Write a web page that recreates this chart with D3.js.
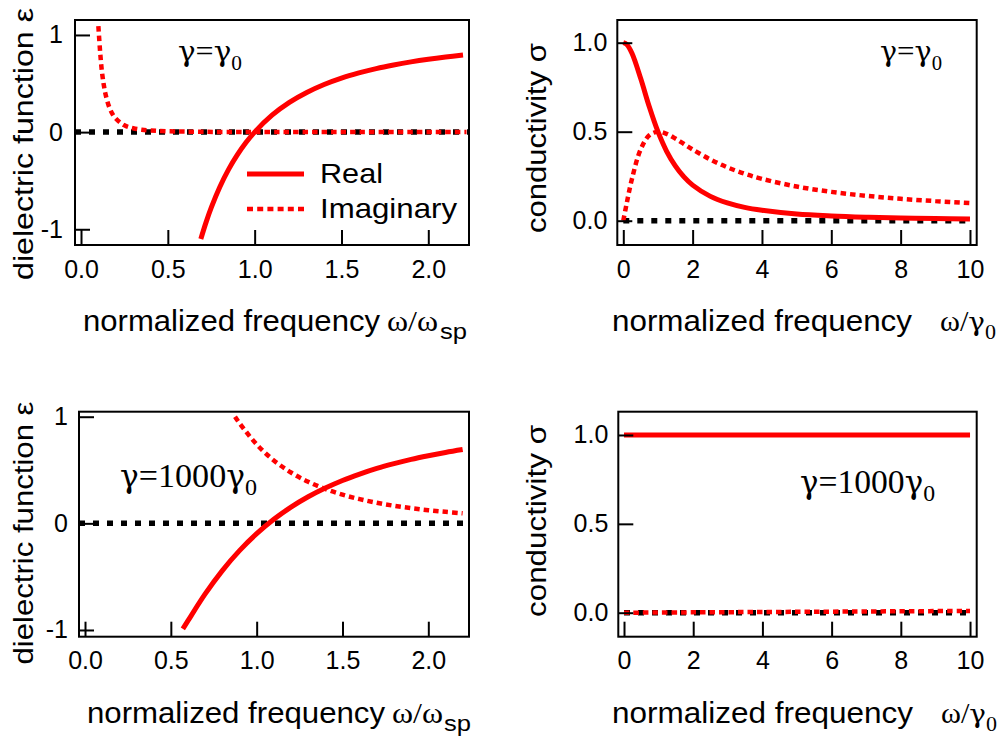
<!DOCTYPE html>
<html>
<head>
<meta charset="utf-8">
<script src="https://cdn.jsdelivr.net/npm/d3@7"></script>
<style>
  body { margin: 0; background: #fff; }
  svg { display: block; }
</style>
</head>
<body>
<svg id="fig" width="1005" height="738"></svg>
<script>
// ---------- tick labels ----------
const epsTickX = [0, 0.5, 1.0, 1.5, 2.0];
const epsTickY = [-1, 0, 1];
const sigTickX = [0, 2, 4, 6, 8, 10];
const sigTickY = [0, 0.5, 1.0];

// ---------- dielectric function, γ = γ0 ----------
const epsLowRealFreq = [0.69, 0.72, 0.75, 0.8, 0.85, 0.9, 0.95, 1.0, 1.1, 1.2, 1.3, 1.4, 1.5, 1.6, 1.7, 1.8, 1.9, 2.0, 2.1, 2.2];
const epsLowReal     = [-1.100, -0.929, -0.778, -0.563, -0.384, -0.235, -0.108, 0.0, 0.174, 0.306, 0.408, 0.490, 0.556, 0.609, 0.654, 0.691, 0.723, 0.750, 0.773, 0.793];
const epsLowImagFreq = [0.10, 0.11, 0.12, 0.13, 0.14, 0.16, 0.18, 0.20, 0.25, 0.30, 0.35, 0.40, 0.50, 0.70, 1.0, 1.5, 2.22];
const epsLowImag     = [1.09, 0.83, 0.63, 0.50, 0.40, 0.27, 0.19, 0.14, 0.07, 0.04, 0.025, 0.017, 0.009, 0.003, 0.001, 0.0, 0.0];

// ---------- conductivity, γ = γ0 ----------
const sigLowFreq = [0, 0.1, 0.25, 0.5, 0.75, 1, 1.25, 1.5, 1.75, 2, 2.5, 3, 3.5, 4, 5, 6, 7, 8, 9, 10];
const sigLowReal = [1.0, 0.990, 0.941, 0.800, 0.640, 0.500, 0.390, 0.308, 0.246, 0.200, 0.138, 0.100, 0.075, 0.059, 0.038, 0.027, 0.020, 0.015, 0.012, 0.010];
const sigLowImag = [0.0, 0.099, 0.235, 0.400, 0.480, 0.500, 0.488, 0.462, 0.431, 0.400, 0.345, 0.300, 0.264, 0.235, 0.192, 0.162, 0.140, 0.123, 0.110, 0.099];

// ---------- dielectric function, γ = 1000γ0 ----------
const epsHighRealFreq = [0.57, 0.6, 0.7, 0.8, 0.9, 1.0, 1.1, 1.2, 1.3, 1.4, 1.5, 1.6, 1.7, 1.8, 1.9, 2.0, 2.1, 2.2];
const epsHighReal     = [-0.99, -0.913, -0.662, -0.443, -0.256, -0.097, 0.038, 0.152, 0.249, 0.331, 0.402, 0.462, 0.515, 0.560, 0.600, 0.634, 0.665, 0.692];
const epsHighImagFreq = [0.874, 0.9, 1.0, 1.1, 1.2, 1.3, 1.4, 1.5, 1.6, 1.7, 1.8, 1.9, 2.0, 2.1, 2.2];
const epsHighImag     = [1.00, 0.94, 0.74, 0.59, 0.477, 0.39, 0.322, 0.269, 0.227, 0.193, 0.165, 0.142, 0.123, 0.108, 0.094];

// ---------- conductivity, γ = 1000γ0 ----------
const sigHighFreq = [0, 2, 4, 6, 8, 10];
const sigHighReal = [1.0, 1.0, 1.0, 1.0, 1.0, 1.0];
const sigHighImag = [0.0, 0.002, 0.004, 0.006, 0.008, 0.010];

// ---------- styling ----------
const RED = "#ff0000";
const SANS = "'Liberation Sans', Arial, Helvetica, sans-serif";
const SERIF = "'Liberation Serif', 'Times New Roman', Times, serif";
const GREEK = "'DejaVu Serif', 'Liberation Serif', serif";
const DOT_RED = "5.5,4";
const DOT_BLACK = "6,8";

const svg = d3.select("#fig");

function stretch(sel, width) {
  sel.attr("textLength", width).attr("lengthAdjust", "spacingAndGlyphs");
}

function zip(xs, ys) { return xs.map((x, i) => ({ x, y: ys[i] })); }

// writes a string into a text element, drawing each γ in a rounder serif face
function greekRun(textSel, str, size) {
  str.split(/(γ)/).filter(s => s.length).forEach(part => {
    const ts = textSel.append("tspan").text(part);
    if (part === "γ") ts.style("font-family", GREEK).style("font-size", (size * 0.92) + "px");
  });
}

function panel(cfg) {
  const { box, xDom, yDom } = cfg;
  const x = d3.scaleLinear().domain(xDom).range([box.x0, box.x1]);
  const y = d3.scaleLinear().domain(yDom).range([box.y1, box.y0]);
  const g = svg.append("g");

  const clipId = "clip" + cfg.id;
  g.append("clipPath").attr("id", clipId)
    .append("rect").attr("x", box.x0).attr("y", box.y0)
    .attr("width", box.x1 - box.x0).attr("height", box.y1 - box.y0);
  const plot = g.append("g").attr("clip-path", `url(#${clipId})`);

  const line = d3.line().x(d => x(d.x)).y(d => y(d.y)).curve(d3.curveCatmullRom.alpha(0.5));

  // zero reference line
  plot.append("path")
    .datum(zip(cfg.zeroSpan, [0, 0]))
    .attr("d", d3.line().x(d => x(d.x)).y(d => y(d.y)))
    .attr("fill", "none").attr("stroke", "#000")
    .attr("stroke-width", 5.5).attr("stroke-dasharray", DOT_BLACK);

  // imaginary part (dotted)
  plot.append("path")
    .datum(zip(cfg.imagX, cfg.imagY))
    .attr("d", line)
    .attr("fill", "none").attr("stroke", RED)
    .attr("stroke-width", 4.5).attr("stroke-dasharray", DOT_RED);

  // real part (solid)
  plot.append("path")
    .datum(zip(cfg.realX, cfg.realY))
    .attr("d", line)
    .attr("fill", "none").attr("stroke", RED)
    .attr("stroke-width", 5);

  // axes with inward ticks
  const xAxis = d3.axisBottom(x).tickValues(cfg.ticksX).tickFormat(cfg.fmtX)
    .tickSize(-15).tickSizeOuter(0).tickPadding(15);
  const yAxis = d3.axisLeft(y).tickValues(cfg.ticksY).tickFormat(cfg.fmtY)
    .tickSize(-15).tickSizeOuter(0).tickPadding(cfg.yPad);

  [g.append("g").attr("transform", `translate(0,${box.y1})`).call(xAxis),
   g.append("g").attr("transform", `translate(${box.x0},0)`).call(yAxis)]
    .forEach(a => {
      a.select(".domain").remove();
      a.selectAll(".tick line").attr("stroke", "#000").attr("stroke-width", 2);
      a.selectAll(".tick text").attr("fill", "#000")
        .style("font-family", SANS).style("font-size", "25px");
    });

  // frame
  g.append("rect")
    .attr("x", box.x0).attr("y", box.y0)
    .attr("width", box.x1 - box.x0).attr("height", box.y1 - box.y0)
    .attr("fill", "none").attr("stroke", "#000").attr("stroke-width", 2);

  // y title
  const yt = g.append("text")
    .attr("transform", `translate(${cfg.yTitle.x},${cfg.yTitle.y}) rotate(-90)`)
    .attr("text-anchor", "middle")
    .style("font-family", SANS).style("font-size", "27px")
    .text(cfg.yTitle.text);
  stretch(yt, cfg.yTitle.len);

  // x title
  const xt = cfg.xTitle;
  stretch(g.append("text").attr("x", xt.x).attr("y", xt.base)
    .style("font-family", SANS).style("font-size", "29px")
    .text("normalized frequency"), xt.len);
  const sym = g.append("text").attr("x", xt.symX).attr("y", xt.base)
    .style("font-family", SERIF).style("font-size", "29px");
  greekRun(sym, xt.sym, 29);
  stretch(sym, xt.symLen);
  stretch(g.append("text").attr("x", xt.subX).attr("y", xt.base + 8)
    .style("font-family", xt.subFont).style("font-size", "22px")
    .text(xt.sub), xt.subLen);

  // γ annotation
  const an = cfg.note;
  const t = g.append("text").attr("x", an.x).attr("y", an.base)
    .style("font-family", SERIF).style("font-size", an.size + "px");
  greekRun(t, an.main, an.size);
  t.append("tspan").attr("dy", an.subDy).style("font-size", an.subSize + "px").text("0");
  stretch(t, an.len);

  return { g, x, y };
}

const fmtEpsX = d3.format(".1f");
const fmtEpsY = d => (d < 0 ? "-" : "") + Math.abs(d);
const fmtSigX = d => String(d);
const fmtSigY = d3.format(".1f");

// top-left: ε, γ = γ0
const A = panel({
  id: "A",
  box: { x0: 75, x1: 469, y0: 20, y1: 245 },
  xDom: [-0.0346, 2.2344], yDom: [-1.162, 1.154],
  ticksX: epsTickX, ticksY: epsTickY, fmtX: fmtEpsX, fmtY: fmtEpsY, yPad: 12,
  zeroSpan: [-0.0346, 2.2344],
  realX: epsLowRealFreq, realY: epsLowReal,
  imagX: epsLowImagFreq, imagY: epsLowImag,
  yTitle: { text: "dielectric function ε", x: 33, y: 144, len: 272 },
  xTitle: { x: 83, base: 331, len: 297, sym: "ω/ω", symX: 387, symLen: 51,
            sub: "sp", subX: 440, subLen: 27, subFont: SANS },
  note: { main: "γ=γ", x: 178, base: 61, size: 30, subSize: 20, subDy: 9, len: 64 }
});

// legend in the top-left panel
const legend = A.g.append("g");
legend.append("line").attr("x1", 247).attr("x2", 304).attr("y1", 174).attr("y2", 174)
  .attr("stroke", RED).attr("stroke-width", 5);
legend.append("line").attr("x1", 247).attr("x2", 304).attr("y1", 209).attr("y2", 209)
  .attr("stroke", RED).attr("stroke-width", 4.5).attr("stroke-dasharray", "6,4.2");
stretch(legend.append("text").attr("x", 320).attr("y", 183)
  .style("font-family", SANS).style("font-size", "28px").text("Real"), 63);
stretch(legend.append("text").attr("x", 320).attr("y", 218)
  .style("font-family", SANS).style("font-size", "28px").text("Imaginary"), 137);

// top-right: σ, γ = γ0
panel({
  id: "B",
  box: { x0: 617.3, x1: 976.7, y0: 20, y1: 245 },
  xDom: [-0.173, 10.194], yDom: [-0.1365, 1.1275],
  ticksX: sigTickX, ticksY: sigTickY, fmtX: fmtSigX, fmtY: fmtSigY, yPad: 10,
  zeroSpan: [0, 10],
  realX: sigLowFreq, realY: sigLowReal,
  imagX: sigLowFreq, imagY: sigLowImag,
  yTitle: { text: "conductivity σ", x: 546, y: 138, len: 190 },
  xTitle: { x: 612, base: 331, len: 300, sym: "ω/γ", symX: 940, symLen: 45,
            sub: "0", subX: 985, subLen: 11, subFont: SERIF },
  note: { main: "γ=γ", x: 880, base: 61, size: 30, subSize: 20, subDy: 9, len: 62 }
});

// bottom-left: ε, γ = 1000γ0
panel({
  id: "C",
  box: { x0: 79, x1: 469, y0: 411.7, y1: 636.7 },
  xDom: [-0.035, 2.237], yDom: [-1.063, 1.047],
  ticksX: epsTickX, ticksY: epsTickY, fmtX: fmtEpsX, fmtY: fmtEpsY, yPad: 11,
  zeroSpan: [-0.035, 2.237],
  realX: epsHighRealFreq, realY: epsHighReal,
  imagX: epsHighImagFreq, imagY: epsHighImag,
  yTitle: { text: "dielectric function ε", x: 33, y: 533, len: 263 },
  xTitle: { x: 87, base: 723, len: 298, sym: "ω/ω", symX: 392, symLen: 51,
            sub: "sp", subX: 444, subLen: 27, subFont: SANS },
  note: { main: "γ=1000γ", x: 120, base: 487, size: 34, subSize: 24, subDy: 8, len: 137 }
});

// bottom-right: σ, γ = 1000γ0
panel({
  id: "D",
  box: { x0: 618.3, x1: 976.7, y0: 411.7, y1: 636.7 },
  xDom: [-0.165, 10.193], yDom: [-0.135, 1.131],
  ticksX: sigTickX, ticksY: sigTickY, fmtX: fmtSigX, fmtY: fmtSigY, yPad: 10,
  zeroSpan: [0, 10],
  realX: sigHighFreq, realY: sigHighReal,
  imagX: sigHighFreq, imagY: sigHighImag,
  yTitle: { text: "conductivity σ", x: 546, y: 521, len: 192 },
  xTitle: { x: 612, base: 723, len: 301, sym: "ω/γ", symX: 941, symLen: 45,
            sub: "0", subX: 986, subLen: 11, subFont: SERIF },
  note: { main: "γ=1000γ", x: 800, base: 493, size: 34, subSize: 24, subDy: 8, len: 135 }
});
</script>
</body>
</html>
